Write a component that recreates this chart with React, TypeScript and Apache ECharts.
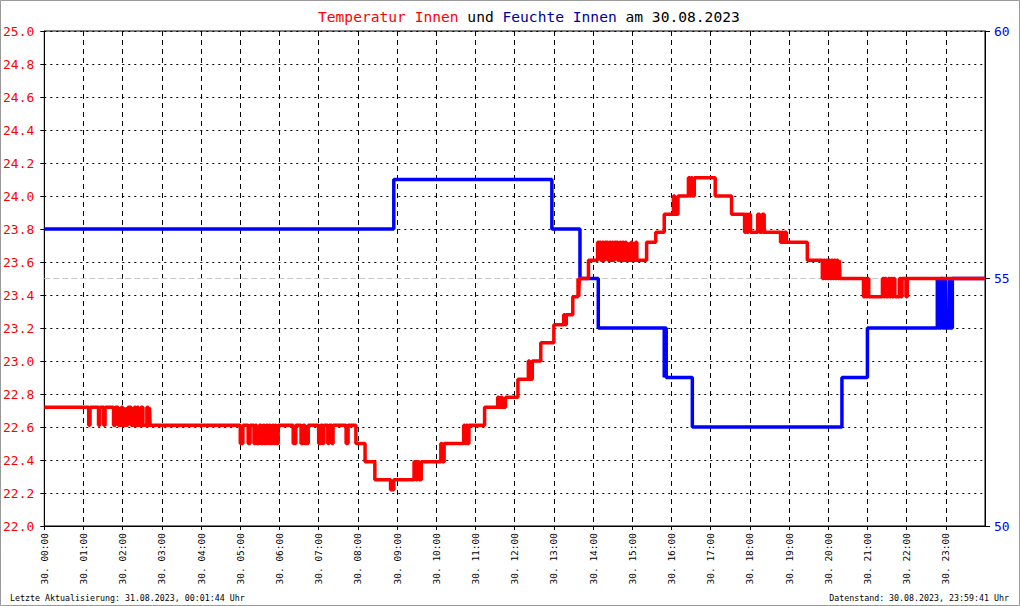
import React, { useEffect, useRef } from "react";
import * as echarts from "echarts";

const DAY_LABEL = "30.";
const TITLE_DATE = "30.08.2023";
const FOOTER_LEFT = "Letzte Aktualisierung: 31.08.2023, 00:01:44 Uhr";
const FOOTER_RIGHT = "Datenstand: 30.08.2023, 23:59:41 Uhr";

// Temperature Innen (°C): [time, value] — value holds from that time until the next entry
const tempSteps: [string, number][] = [
  ["00:00", 22.72],
  ["01:08", 22.61], ["01:10", 22.72],
  ["01:23", 22.61], ["01:25", 22.72],
  ["01:31", 22.61], ["01:33", 22.72],
  ["01:46", 22.61], ["01:49", 22.72],
  ["01:53", 22.61], ["01:55", 22.72], ["01:56", 22.61], ["01:58", 22.72],
  ["02:00", 22.61], ["02:02", 22.72], ["02:03", 22.61], ["02:04", 22.72],
  ["02:05", 22.61],
  ["02:08", 22.72], ["02:13", 22.61],
  ["02:18", 22.72], ["02:20", 22.61], ["02:22", 22.72], ["02:24", 22.61],
  ["02:28", 22.72], ["02:31", 22.61],
  ["02:37", 22.72], ["02:39", 22.61], ["02:41", 22.72], ["02:42", 22.61],
  ["05:00", 22.5], ["05:04", 22.61],
  ["05:12", 22.5], ["05:15", 22.61],
  ["05:21", 22.5], ["05:23", 22.61], ["05:25", 22.5], ["05:29", 22.61],
  ["05:32", 22.5], ["05:35", 22.61], ["05:37", 22.5], ["05:40", 22.61],
  ["05:42", 22.5], ["05:44", 22.61], ["05:46", 22.5], ["05:49", 22.61],
  ["05:51", 22.5], ["05:53", 22.61], ["05:55", 22.5], ["05:58", 22.61],
  ["06:21", 22.5], ["06:25", 22.61],
  ["06:33", 22.5], ["06:36", 22.61], ["06:39", 22.5], ["06:44", 22.61],
  ["07:00", 22.5], ["07:03", 22.61], ["07:06", 22.5], ["07:08", 22.61],
  ["07:14", 22.5], ["07:16", 22.61], ["07:20", 22.5], ["07:22", 22.61],
  ["07:42", 22.5], ["07:45", 22.61],
  ["07:57", 22.5],
  ["08:11", 22.39],
  ["08:26", 22.28],
  ["08:50", 22.22], ["08:55", 22.28],
  ["09:26", 22.39], ["09:29", 22.28], ["09:31", 22.39], ["09:34", 22.28], ["09:37", 22.39],
  ["10:07", 22.5], ["10:09", 22.39], ["10:12", 22.5],
  ["10:42", 22.61], ["10:44", 22.5], ["10:46", 22.61], ["10:48", 22.5], ["10:50", 22.61],
  ["11:14", 22.72],
  ["11:34", 22.78], ["11:36", 22.72], ["11:39", 22.78], ["11:41", 22.72], ["11:46", 22.78],
  ["12:05", 22.89],
  ["12:21", 23.0], ["12:23", 22.89], ["12:27", 23.0],
  ["12:40", 23.11],
  ["13:00", 23.22],
  ["13:15", 23.28], ["13:17", 23.22], ["13:19", 23.28],
  ["13:29", 23.39],
  ["13:37", 23.5], ["13:38", 23.39], ["13:39", 23.5],
  ["13:53", 23.61],
  ["14:07", 23.72], ["14:09", 23.61], ["14:10", 23.72], ["14:12", 23.61],
  ["14:14", 23.72], ["14:16", 23.61], ["14:18", 23.72], ["14:20", 23.61],
  ["14:21", 23.72], ["14:23", 23.61], ["14:25", 23.72], ["14:27", 23.61],
  ["14:29", 23.72], ["14:31", 23.61], ["14:33", 23.72], ["14:35", 23.61],
  ["14:36", 23.72], ["14:38", 23.61], ["14:41", 23.72], ["14:43", 23.61],
  ["14:45", 23.72], ["14:47", 23.61], ["14:49", 23.72], ["14:51", 23.61],
  ["14:54", 23.72], ["14:55", 23.61], ["14:58", 23.72], ["15:00", 23.61],
  ["15:05", 23.72], ["15:07", 23.61],
  ["15:22", 23.72],
  ["15:36", 23.78],
  ["15:49", 23.89],
  ["16:03", 24.0], ["16:05", 23.89], ["16:07", 24.0], ["16:08", 23.89], ["16:10", 24.0],
  ["16:26", 24.11], ["16:28", 24.0], ["16:30", 24.11], ["16:32", 24.0], ["16:35", 24.11],
  ["17:07", 24.0],
  ["17:32", 23.89],
  ["17:52", 23.78], ["17:54", 23.89], ["17:56", 23.78], ["17:58", 23.89], ["18:01", 23.78],
  ["18:12", 23.89], ["18:15", 23.78], ["18:19", 23.89], ["18:22", 23.78],
  ["18:47", 23.72], ["18:49", 23.78], ["18:51", 23.72], ["18:53", 23.78], ["18:56", 23.72],
  ["19:28", 23.61],
  ["19:51", 23.5], ["19:53", 23.61], ["19:55", 23.5], ["19:57", 23.61],
  ["19:59", 23.5], ["20:01", 23.61], ["20:03", 23.5], ["20:05", 23.61],
  ["20:07", 23.5], ["20:09", 23.61], ["20:11", 23.5], ["20:13", 23.61],
  ["20:15", 23.5], ["20:17", 23.61], ["20:18", 23.5],
  ["20:54", 23.39], ["20:56", 23.5], ["20:58", 23.39], ["21:00", 23.5], ["21:02", 23.39],
  ["21:23", 23.5], ["21:25", 23.39], ["21:27", 23.5], ["21:29", 23.39],
  ["21:32", 23.5], ["21:34", 23.39], ["21:36", 23.5], ["21:38", 23.39],
  ["21:40", 23.5], ["21:42", 23.39], ["21:49", 23.5], ["21:51", 23.39],
  ["21:53", 23.5], ["21:59", 23.39], ["22:01", 23.5],
  ["24:00", 23.5],
];

// Feuchte Innen (%): [time, value]
const humSteps: [string, number][] = [
  ["00:00", 56],
  ["08:55", 57],
  ["12:57", 56],
  ["13:40", 55],
  ["14:08", 54],
  ["15:49", 53], ["15:50", 54], ["15:52", 53],
  ["16:32", 52],
  ["20:21", 53],
  ["21:00", 54],
  ["22:47", 55], ["22:48", 54], ["22:50", 55], ["22:51", 54], ["22:53", 55],
  ["22:55", 54], ["22:57", 55], ["22:58", 54], ["23:00", 55], ["23:01", 54],
  ["23:06", 55], ["23:07", 54], ["23:10", 55],
  ["24:00", 55],
];

const tempAxis = { min: 22, max: 25, interval: 0.2 };
const humAxis = { min: 50, max: 60, interval: 5 };
const humReference = 55;
const dayRange = ["00:00", "24:00"];

const toHours = (s: string) => {
  const [h, m] = s.split(":").map(Number);
  return h + m / 60;
};
const pad = (n: number) => (n < 10 ? "0" + n : "" + n);
const MONO = "DejaVu Sans Mono, Liberation Mono, monospace";

export default function App() {
  const ref = useRef<HTMLDivElement>(null);
  useEffect(() => {
    if (!ref.current) return;
    const chart = echarts.init(ref.current, null, { renderer: "svg" });
    const option: any = {
      animation: false,
      backgroundColor: "#ffffff",
      title: {
        text:
          "{r|Temperatur Innen} {k|und} {b|Feuchte Innen} {k|am " + TITLE_DATE + "}",
        left: 313,
        top: 4,
        textStyle: {
          fontFamily: MONO,
          fontSize: 14.6,
          fontWeight: "normal",
          rich: {
            r: { color: "#ff0000", fontFamily: MONO, fontSize: 14.6 },
            k: { color: "#000000", fontFamily: MONO, fontSize: 14.6 },
            b: { color: "#0000a0", fontFamily: MONO, fontSize: 14.6 },
          },
        },
      },
      grid: {
        left: 43,
        right: 35,
        top: 31,
        bottom: 80,
        show: true,
        borderColor: "#000",
        borderWidth: 1,
        backgroundColor: "transparent",
      },
      xAxis: {
        type: "value",
        min: 0,
        max: 24,
        interval: 1,
        axisLine: { show: true, lineStyle: { color: "#000", width: 1 } },
        axisTick: { show: true, length: 4, lineStyle: { color: "#000" } },
        axisLabel: {
          rotate: 90,
          margin: 7,
          fontFamily: MONO,
          fontSize: 9.5,
          color: "#000",
          showMaxLabel: false,
          formatter: (v: number) => (v >= 24 ? "" : DAY_LABEL + " " + pad(v) + ":00"),
        },
        splitLine: {
          show: true,
          lineStyle: { color: "#000", type: [5, 4], width: 1 },
        },
      },
      yAxis: [
        {
          type: "value",
          position: "left",
          min: tempAxis.min,
          max: tempAxis.max,
          interval: tempAxis.interval,
          axisLine: { show: true, lineStyle: { color: "#000", width: 1 } },
          axisTick: { show: true, length: 4, lineStyle: { color: "#000" } },
          axisLabel: {
            margin: 10,
            fontFamily: MONO,
            fontSize: 13,
            color: "#ff0000",
            formatter: (v: number) => v.toFixed(1),
          },
          splitLine: {
            show: true,
            lineStyle: { color: "#000", type: [2, 4], width: 1 },
          },
        },
        {
          type: "value",
          position: "right",
          min: humAxis.min,
          max: humAxis.max,
          interval: humAxis.interval,
          axisLine: { show: true, lineStyle: { color: "#000", width: 1 } },
          axisTick: { show: true, length: 5, lineStyle: { color: "#000" } },
          axisLabel: {
            margin: 9,
            fontFamily: MONO,
            fontSize: 13,
            color: "#0000ff",
          },
          splitLine: { show: false },
        },
      ],
      series: [
        {
          name: "Referenz",
          type: "line",
          yAxisIndex: 1,
          showSymbol: false,
          symbol: "none",
          silent: true,
          lineStyle: { color: "#c8c8c8", type: [6, 3], width: 1 },
          data: dayRange.map((t) => [toHours(t), humReference]),
          z: 1,
        },
        {
          name: "Feuchte Innen",
          type: "line",
          yAxisIndex: 1,
          step: "end",
          showSymbol: false,
          symbol: "none",
          lineStyle: { color: "#0000ff", width: 3.5 },
          data: humSteps.map(([t, v]) => [toHours(t), v]),
          z: 2,
        },
        {
          name: "Temperatur Innen",
          type: "line",
          yAxisIndex: 0,
          step: "end",
          showSymbol: false,
          symbol: "none",
          lineStyle: { color: "#ff0000", width: 3.5 },
          data: tempSteps.map(([t, v]) => [toHours(t), v]),
          z: 3,
        },
      ],
      graphic: [
        {
          type: "rect",
          shape: { x: 0.5, y: 0.5, width: 1019, height: 605 },
          style: { fill: "none", stroke: "#999", lineWidth: 1 },
          silent: true,
        },
        {
          type: "text",
          left: 10,
          top: 594,
          style: { text: FOOTER_LEFT, fontFamily: MONO, fontSize: 8.3, fill: "#000" },
        },
        {
          type: "text",
          right: 11,
          top: 594,
          style: { text: FOOTER_RIGHT, fontFamily: MONO, fontSize: 8.3, fill: "#000" },
        },
      ],
    };
    chart.setOption(option);
    return () => chart.dispose();
  }, []);
  return (
    <div
      ref={ref}
      style={{ position: "absolute", left: 0, top: 0, width: 1020, height: 606 }}
    />
  );
}
